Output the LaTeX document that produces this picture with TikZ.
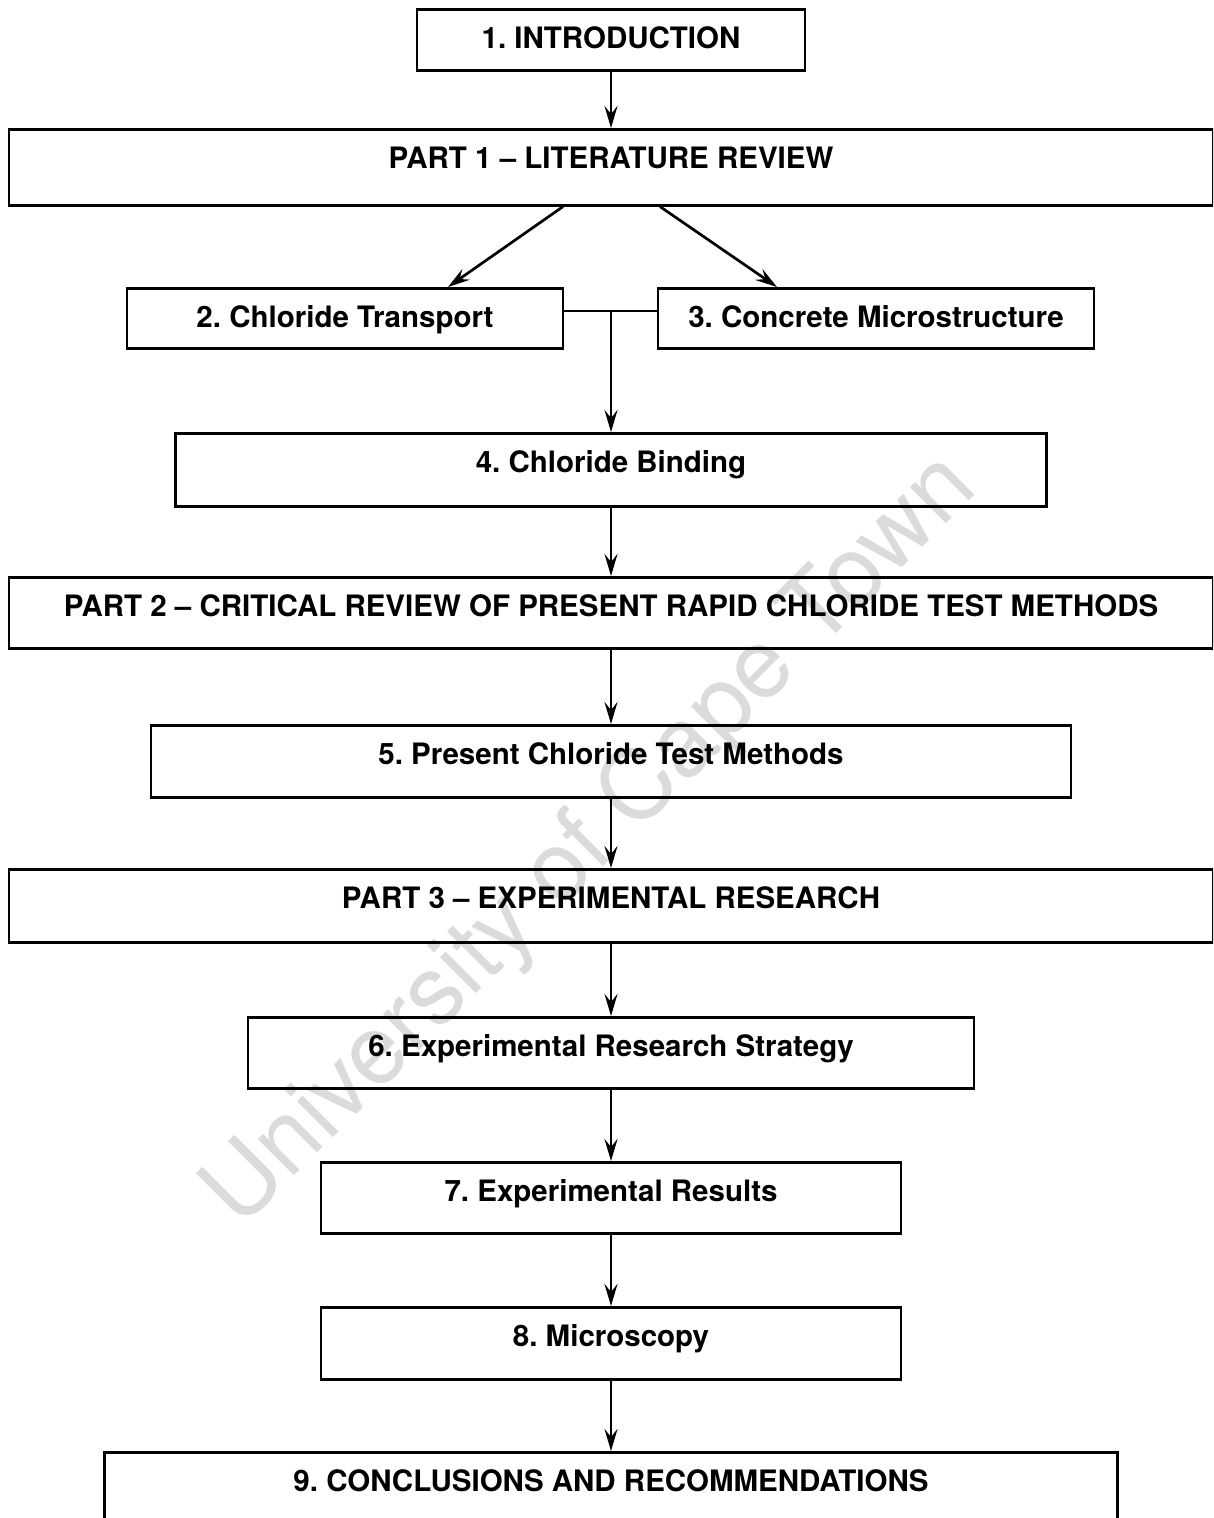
\documentclass[tikz,border=0pt]{standalone}
\usepackage{fontspec}
\setmainfont{TeX Gyre Heros}
\frenchspacing
\usetikzlibrary{arrows.meta,positioning,calc}
\tikzset{
  stage/.style 2 args={draw,line width=2.6pt,anchor=north,inner xsep=0pt,
              inner ysep=0pt,minimum width=#1,text height=39pt,text depth=#2,
              font=\fontsize{29.5}{33}\selectfont\bfseries},
  flowarrow/.style={-{Stealth[length=22pt,width=13pt,inset=8pt]},line width=2.7pt},
  joinline/.style={line width=2.8pt},
  wmark/.style={text=black!14,font=\fontsize{97}{110}\selectfont},
}
\begin{document}
\begin{tikzpicture}[x=1pt,y=-1pt]
  \useasboundingbox (0,0) rectangle (1213,1518);
  \clip (0,0) rectangle (1213,1518);
  % watermark
  \node[wmark,rotate=45] (uct) at (592,842) {University of Cape Town};
  % boxes
  \node[stage={388pt}{22pt}] (intro) at (611,8) {1. INTRODUCTION};
  \node[stage={1204pt}{37pt}] (p1) at (611,128) {PART 1 -- LITERATURE REVIEW};
  \node[stage={436pt}{21pt}] (t2) at (345,287) {2. Chloride Transport};
  \node[stage={436pt}{21pt}] (t3) at (876,287) {3. Concrete Microstructure};
  \node[stage={871pt}{34pt}] (t4) at (611,432) {4. Chloride Binding};
  \node[stage={1204pt}{32pt}] (p2) at (611,576)
       {PART 2 -- CRITICAL REVIEW OF PRESENT RAPID CHLORIDE TEST METHODS};
  \node[stage={920pt}{33pt}] (t5) at (611,724) {5. Present Chloride Test Methods};
  \node[stage={1204pt}{34pt}] (p3) at (611,868) {PART 3 -- EXPERIMENTAL RESEARCH};
  \node[stage={726pt}{32pt}] (t6) at (611,1016) {6. Experimental Research Strategy};
  \node[stage={580pt}{32pt}] (t7) at (611,1161) {7. Experimental Results};
  \node[stage={580pt}{33pt}] (t8) at (611,1306) {8. Microscopy};
  \node[stage={1013pt}{80pt}] (t9) at (611,1451) {9. CONCLUSIONS AND RECOMMENDATIONS};
  % straight arrows down the middle
  \foreach \a/\b in {intro/p1,t4/p2,p2/t5,t5/p3,p3/t6,t6/t7,t7/t8,t8/t9}
    \draw[flowarrow] (\a) -- (\b);
  % split into the two review chapters
  \draw[flowarrow] ($(p1.south)+(-48,0)$) -- ($(t2.north)+(103,0)$);
  \draw[flowarrow] ($(p1.south)+(49,0)$) -- ($(t3.north)+(-99,0)$);
  % join into chapter 4
  \coordinate (j) at (611,311);
  \draw[joinline] (j -| t2.east) -- (j -| t3.west);
  \draw[flowarrow] (j) -- (j |- t4.north);
\end{tikzpicture}
\end{document}
